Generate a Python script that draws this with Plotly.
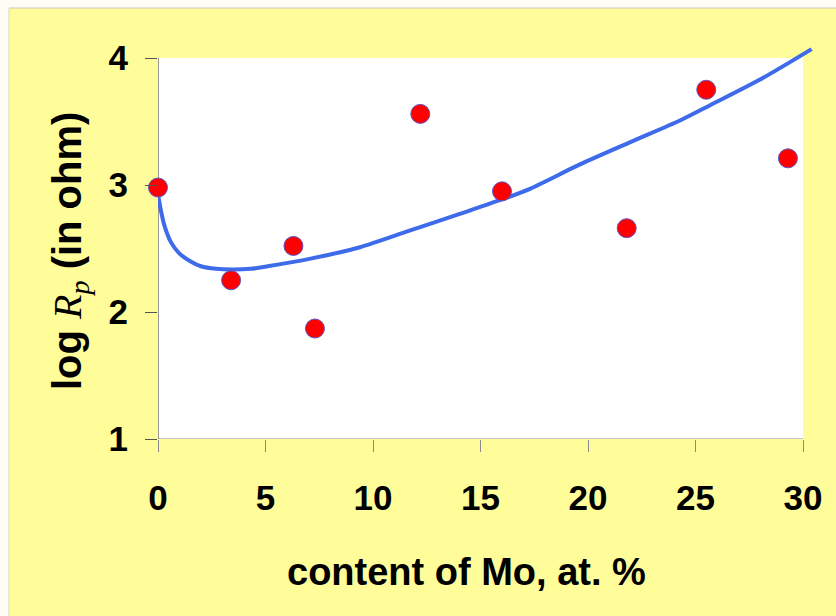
import plotly.graph_objects as go

# measured points
mo_content = [0.0, 3.4, 6.3, 7.3, 12.2, 16.0, 21.8, 25.5, 29.3]
log_rp = [2.98, 2.25, 2.52, 1.87, 3.56, 2.95, 2.66, 3.75, 3.21]

# fitted trend curve
fit_x = [0.0, 0.1, 0.3, 0.6, 1.0, 1.5, 2.0, 2.7, 3.5, 4.3, 5.1, 7.1, 9.4, 11.7, 14.0,
         15.9, 17.3, 19.6, 22.0, 24.3, 25.7, 28.0, 30.4]
fit_y = [2.93, 2.83, 2.68, 2.55, 2.46, 2.40, 2.36, 2.34, 2.335, 2.34, 2.36, 2.42, 2.51,
         2.64, 2.77, 2.88, 2.97, 3.16, 3.34, 3.51, 3.63, 3.83, 4.07]

x_ticks = [0, 5, 10, 15, 20, 25, 30]
y_ticks = [1, 2, 3, 4]

W, H = 836, 616
L, R, T, B = 158, 22, 45, 177
pw, ph = W - L - R, H - T - B
px_per_x = 645 / 30.0
px_per_y = 381 / 3.0
x_range = [0, pw / px_per_x]
y_range = [1, 1 + ph / px_per_y]

def xp(px):
    return (px - L) / pw

def yp(py):
    return (H - B - py) / ph

YEL = "#FFFC9A"
OFF = "#FDFDF4"
sans = "Liberation Sans, Arial"

fig = go.Figure()
fig.add_trace(go.Scatter(x=fit_x, y=fit_y, mode="lines",
                         line=dict(color="#3D6BEA", width=4, shape="spline", smoothing=0.8),
                         hoverinfo="skip", showlegend=False))
fig.add_trace(go.Scatter(x=mo_content, y=log_rp, mode="markers",
                         marker=dict(size=19, color="#FF0000", line=dict(color="#5A55C8", width=1)),
                         showlegend=False, cliponaxis=False))

shapes = [
    dict(type="rect", xref="paper", yref="paper", x0=xp(0), x1=xp(W), y0=yp(8), y1=yp(0),
         fillcolor=OFF, line=dict(width=0), layer="below"),
    dict(type="rect", xref="paper", yref="paper", x0=xp(0), x1=xp(9), y0=yp(H), y1=yp(0),
         fillcolor=OFF, line=dict(width=0), layer="below"),
    dict(type="line", xref="paper", yref="paper", x0=xp(9), x1=xp(W), y0=yp(8), y1=yp(8),
         line=dict(color="#C8C8C0", width=1), layer="below"),
    dict(type="line", xref="paper", yref="paper", x0=xp(9), x1=xp(9), y0=yp(8), y1=yp(H),
         line=dict(color="#D8D8C8", width=1), layer="below"),
    dict(type="rect", xref="x", yref="y", x0=0, x1=30, y0=1, y1=4,
         fillcolor="white", line=dict(width=0), layer="below"),
    dict(type="line", xref="x", yref="y", x0=0, x1=30, y0=1, y1=1,
         line=dict(color="#8A8A8A", width=1), layer="below"),
    dict(type="line", xref="x", yref="y", x0=0, x1=0, y0=1, y1=4,
         line=dict(color="#333333", width=1), layer="below"),
]

annotations = [
    dict(text="<b>content of Mo, at. %</b>", xref="paper", yref="paper", x=xp(466), y=yp(572),
         xanchor="center", yanchor="middle", showarrow=False,
         font=dict(family=sans, size=38, color="black")),
    dict(text="<b>log </b><span style='font-family:Liberation Serif'><i>R<sub>p</sub></i></span><b> (in ohm)</b>",
         xref="paper", yref="paper", x=xp(70), y=yp(251), textangle=-90,
         xanchor="center", yanchor="middle", showarrow=False,
         font=dict(family=sans, size=40, color="black")),
]

fig.update_layout(
    width=W, height=H, margin=dict(l=L, r=R, t=T, b=B),
    paper_bgcolor=YEL, plot_bgcolor=YEL,
    shapes=shapes, annotations=annotations,
    xaxis=dict(range=x_range, tickvals=x_ticks, ticks="outside", ticklen=12, tickcolor="#8A8A8A",
               showgrid=False, zeroline=False, showline=False, ticklabelstandoff=16,
               tickfont=dict(family=sans, size=35, color="black", weight="bold")),
    yaxis=dict(range=y_range, tickvals=y_ticks, ticks="outside", ticklen=12, tickcolor="#555555",
               showgrid=False, zeroline=False, showline=False, ticklabelstandoff=10,
               tickfont=dict(family=sans, size=35, color="black", weight="bold")),
)

fig.write_html("out.html")
